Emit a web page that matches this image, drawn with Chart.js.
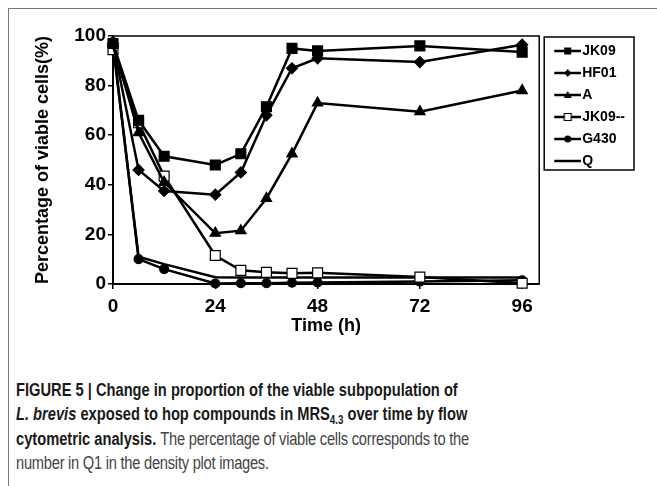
<!DOCTYPE html>
<html>
<head>
<meta charset="utf-8">
<title>Viable subpopulation of L. brevis</title>
<script src="https://cdn.jsdelivr.net/npm/chart.js@4.4.0/dist/chart.umd.min.js"></script>
<style>
  body { margin: 0; background: #fff; width: 657px; height: 486px; overflow: hidden; position: relative; }
  .frame { position: absolute; left: 8px; top: 8px; width: 670px; height: 500px; border-top: 1.5px solid #777; border-left: 1.5px solid #777; }
  .chart-container { position: absolute; left: 0; top: 0; width: 657px; height: 345px; }
  .caption { position: absolute; left: 16px; top: 378px; font-family: "Liberation Sans", Arial, sans-serif; font-size: 18px; line-height: 24.4px; color: #444; white-space: nowrap; transform: scaleX(0.815); transform-origin: 0 0; }
  .caption b { color: #1a1a1a; }
  .caption .reg { letter-spacing: -0.3px; }
  .caption sub { font-size: 12px; vertical-align: -4px; line-height: 0; }
</style>
</head>
<body>
<div class="frame"></div>
<div class="chart-container">
    <canvas id="myChart"></canvas>
</div>
<div class="caption">
    <b>FIGURE 5 | Change in proportion of the viable subpopulation of</b><br>
    <b><i>L. brevis</i> exposed to hop compounds in MRS<sub>4.3</sub> over time by flow</b><br>
    <b>cytometric analysis.</b> <span class="reg">The percentage of viable cells corresponds to the</span><br>
    <span class="reg">number in Q1 in the density plot images.</span>
</div>
<script>
// time points (h) and % viable cells per strain
const times   = [0, 6, 12, 24, 30, 36, 42, 48, 72, 96];
const jk09    = [97, 66, 51.5, 48, 52.5, 71.5, 95, 94, 96, 93.5];
const hf01    = [97, 46, 37.5, 36, 45, 68, 87, 91, 89.5, 96.5];
const strainA = [97, 61, 41, 20.5, 21.5, 34.5, 52.5, 73, 69.5, 78];
const jk09m   = [94.5, 65, 43.5, 11.5, 5.5, 4.7, 4.3, 4.5, 2.8, 0.3];
const g430    = [97.5, 10, 6, 0.2, 0.3, 0.3, 0.5, 0.6, 1, 1.5];
const q       = [96, 11, 8, 2.7, 2.6, 2.6, 2.6, 2.6, 2.6, 2.6];
const xTicks  = [0, 24, 48, 72, 96];

function pts(vals) {
    return vals.map(function(v, i) { return {x: times[i], y: v}; });
}

// small legend picture: line with marker on it
function legendIcon(kind) {
    var c = document.createElement('canvas');
    c.width = 40; c.height = 14;
    var g = c.getContext('2d');
    g.strokeStyle = '#000';
    g.lineWidth = 2.5;
    g.beginPath(); g.moveTo(13, 7); g.lineTo(40, 7); g.stroke();
    var cx = 26.5, cy = 7;
    g.fillStyle = '#000';
    g.lineWidth = 1;
    g.beginPath();
    if (kind == 'rect' || kind == 'open') g.rect(cx - 3.5, cy - 3.5, 7, 7);
    else if (kind == 'rectRot') { g.moveTo(cx, cy - 4); g.lineTo(cx + 3.5, cy); g.lineTo(cx, cy + 4); g.lineTo(cx - 3.5, cy); g.closePath(); }
    else if (kind == 'triangle') { g.moveTo(cx, cy - 4); g.lineTo(cx + 4, cy + 3); g.lineTo(cx - 4, cy + 3); g.closePath(); }
    else if (kind == 'circle') g.arc(cx, cy, 3.5, 0, Math.PI * 2);
    else return c;
    if (kind == 'open') { g.fillStyle = '#fff'; g.fill(); g.lineWidth = 1.2; g.stroke(); }
    else g.fill();
    return c;
}
const icons = [legendIcon('rect'), legendIcon('rectRot'), legendIcon('triangle'),
               legendIcon('open'), legendIcon('circle'), legendIcon('none')];

function series(label, vals, style, radius, fill) {
    return {
        label: label,
        data: pts(vals),
        borderColor: '#000',
        borderWidth: 2.5,
        pointStyle: style,
        pointRadius: radius,
        pointBackgroundColor: fill,
        pointBorderColor: '#000',
        pointBorderWidth: 1.2,
        lineTension: 0,
        fill: false,
        clip: false
    };
}

// plot box and legend box
const framePlugin = {
    id: 'frame',
    beforeDatasetsDraw: function(chart) {
        var ctx = chart.ctx, a = chart.chartArea;
        ctx.save();
        ctx.strokeStyle = '#000';
        ctx.lineWidth = 1.5;
        ctx.strokeRect(a.left, a.top, a.right - a.left, a.bottom - a.top);
        ctx.restore();
    },
    afterDraw: function(chart) {
        var ctx = chart.ctx, lg = chart.legend, hb = lg.legendHitBoxes;
        var right = 0;
        hb.forEach(function(h) { right = Math.max(right, h.left + h.width); });
        var last = hb[hb.length - 1];
        var left = lg.left + 5, top = chart.chartArea.top + 1;
        ctx.save();
        ctx.strokeStyle = '#000';
        ctx.lineWidth = 1.5;
        ctx.strokeRect(left, top, right + 9 - left, last.top + last.height + 2 - top);
        ctx.restore();
    }
};

Chart.defaults.color = '#000';
Chart.defaults.font.family = '"Liberation Sans", Arial, sans-serif';

var ctx = document.getElementById('myChart').getContext('2d');
var chart = new Chart(ctx, {
    type: 'line',
    data: {
        datasets: [
            series('JK09', jk09, 'rect', 7, '#000'),
            series('HF01', hf01, 'rectRot', 5.5, '#000'),
            series('A', strainA, 'triangle', 6, '#000'),
            series('JK09--', jk09m, 'rect', 7, '#fff'),
            series('G430', g430, 'circle', 4.5, '#000'),
            series('Q', q, 'circle', 0, '#000')
        ]
    },
    options: {
        responsive: true,
        maintainAspectRatio: false,
        animation: false,
        layout: { padding: { left: 28, right: 22, top: 36, bottom: 0 } },
        plugins: {
            tooltip: { enabled: false },
            legend: {
                position: 'right',
                align: 'start',
                labels: {
                    usePointStyle: true,
                    pointStyleWidth: 28,
                    padding: 8,
                    color: '#000',
                    font: { size: 14, weight: 'bold' },
                    generateLabels: function(chart) {
                        var items = Chart.defaults.plugins.legend.labels.generateLabels(chart);
                        items.forEach(function(it, i) { it.pointStyle = icons[i]; });
                        return items;
                    }
                }
            }
        },
        scales: {
            x: {
                type: 'linear',
                min: 0,
                max: 100,
                afterBuildTicks: function(scale) {
                    scale.ticks = xTicks.map(function(v) { return {value: v}; });
                },
                afterFit: function(scale) { scale.height = 61; },
                border: { display: true, color: '#000', width: 2 },
                grid: { drawOnChartArea: false, drawTicks: true, tickLength: 5, color: '#000', lineWidth: 1.5 },
                ticks: { padding: 6, color: '#000', font: { size: 19, weight: 'bold' } },
                title: { display: true, text: 'Time (h)', color: '#000', padding: { top: 4, bottom: 8 }, font: { size: 18, weight: 'bold' } }
            },
            y: {
                min: 0,
                max: 100,
                ticks: { stepSize: 20, padding: 2, color: '#000', font: { size: 19, weight: 'bold' } },
                afterFit: function(scale) { scale.width = 85; },
                border: { display: true, color: '#000', width: 2 },
                grid: { drawOnChartArea: false, drawTicks: true, tickLength: 5, color: '#000', lineWidth: 1.5 },
                title: { display: true, text: 'Percentage of viable cells(%)', color: '#000', padding: { top: 4, bottom: 4 }, font: { size: 18, weight: 'bold' } }
            }
        }
    },
    plugins: [framePlugin]
});
</script>
</body>
</html>
